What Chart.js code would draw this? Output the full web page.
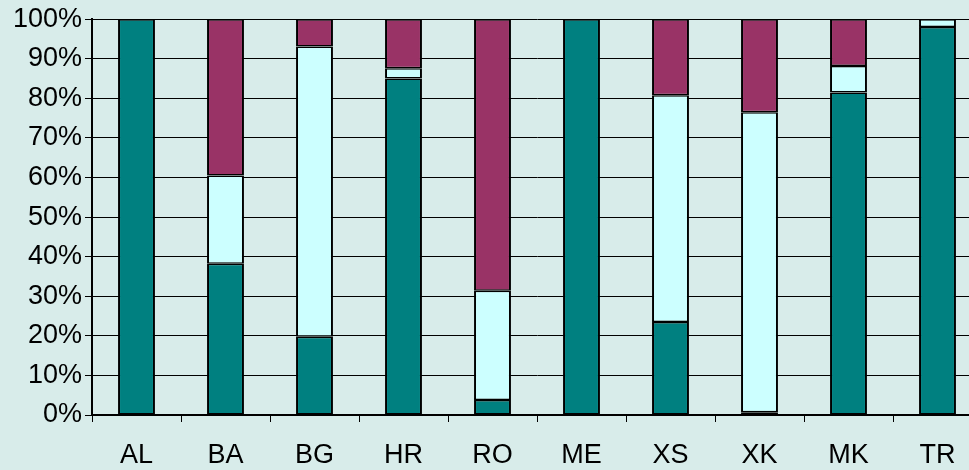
<!DOCTYPE html>
<html>
<head>
<meta charset="utf-8">
<script src="https://cdn.jsdelivr.net/npm/chart.js@4"></script>
<style>
html, body { margin: 0; padding: 0; background: #d8ecea; overflow: hidden; }
#box { width: 990px; height: 470px; }
</style>
</head>
<body>
<div id="box"><canvas id="myChart"></canvas></div>
<script>
// countries
var labels = ['AL', 'BA', 'BG', 'HR', 'RO', 'ME', 'XS', 'XK', 'MK', 'TR'];

// shares in percent, bottom to top
var tealData = [100, 38.2, 19.8, 85.0, 3.8, 100, 23.5, 0.7, 81.5, 98.0];
var cyanData = [0, 22.3, 73.3, 2.6, 27.6, 0, 57.3, 75.8, 6.7, 2.0];
var maroonData = [0, 39.5, 6.9, 12.4, 68.6, 0, 19.2, 23.5, 11.8, 0];

var yTicks = [0, 10, 20, 30, 40, 50, 60, 70, 80, 90, 100];

var border = { left: 2, right: 2, top: 1.5, bottom: 1.5 };

var ctx = document.getElementById('myChart').getContext('2d');

var myChart = new Chart(ctx, {
    type: 'bar',
    data: {
        labels: labels,
        datasets: [
            { data: tealData, backgroundColor: '#008080', borderColor: '#000', borderWidth: border, borderSkipped: false },
            { data: cyanData, backgroundColor: '#ccffff', borderColor: '#000', borderWidth: border, borderSkipped: false },
            { data: maroonData, backgroundColor: '#993366', borderColor: '#000', borderWidth: border, borderSkipped: false }
        ]
    },
    options: {
        responsive: true,
        maintainAspectRatio: false,
        animation: false,
        layout: { padding: { top: 16, right: 8, left: 0, bottom: 0 } },
        datasets: { bar: { barPercentage: 0.415, categoryPercentage: 1 } },
        plugins: { legend: { display: false }, tooltip: { enabled: false } },
        scales: {
            x: {
                stacked: true,
                grid: { offset: true, drawOnChartArea: false, color: '#000', tickLength: 7 },
                border: { color: '#000', width: 2 },
                ticks: {
                    color: '#000',
                    padding: 17,
                    maxRotation: 0,
                    font: { family: "'Liberation Sans', Arial, sans-serif", size: 27 }
                },
                afterFit: function (s) { s.height = 55; }
            },
            y: {
                stacked: true,
                min: 0,
                max: 100,
                grid: { color: '#000', lineWidth: 1, tickLength: 7 },
                border: { color: '#000', width: 2 },
                afterBuildTicks: function (s) {
                    s.ticks = yTicks.map(function (v) { return { value: v }; });
                },
                ticks: {
                    color: '#000',
                    padding: 3,
                    font: { family: "'Liberation Sans', Arial, sans-serif", size: 27 },
                    callback: function (v) { return v + '%'; }
                },
                afterFit: function (s) { s.width = 92; }
            }
        }
    }
});
</script>
</body>
</html>
